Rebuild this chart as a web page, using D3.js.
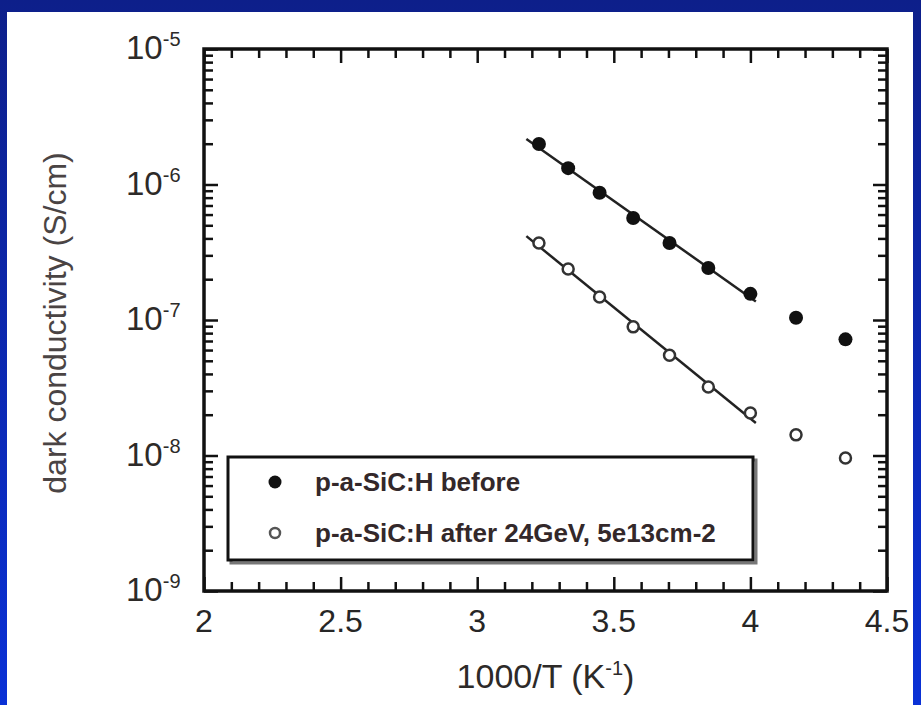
<!DOCTYPE html>
<html>
<head>
<meta charset="utf-8">
<script src="https://cdn.jsdelivr.net/npm/d3@7"></script>
<style>
  html, body { margin: 0; padding: 0; background: #0b2ab8; }
  svg { display: block; }
</style>
</head>
<body>
<div id="chart"></div>
<script>
// 1000/T values (K^-1)
const invT = [3.226, 3.333, 3.448, 3.571, 3.704, 3.846, 4.0, 4.167, 4.348];
// dark conductivity (S/cm)
const sigmaBefore = [1.99e-6, 1.32e-6, 8.7e-7, 5.66e-7, 3.7e-7, 2.42e-7, 1.56e-7, 1.04e-7, 7.2e-8];
const sigmaAfter = [3.7e-7, 2.38e-7, 1.48e-7, 8.9e-8, 5.5e-8, 3.2e-8, 2.06e-8, 1.42e-8, 9.6e-9];
const fitPoints = 7;          // first seven points used for the Arrhenius fit
const fitRange = [3.18, 4.02];
const xTicks = [2, 2.5, 3, 3.5, 4, 4.5];
const yTicks = [1e-9, 1e-8, 1e-7, 1e-6, 1e-5];
const yTickExp = ["-9", "-8", "-7", "-6", "-5"];
const legendLabels = ["p-a-SiC:H before", "p-a-SiC:H after 24GeV, 5e13cm-2"];

const W = 921, H = 705;
const margin = {top: 49, right: 34, bottom: 114, left: 204};
const width = W - margin.left - margin.right;
const height = H - margin.top - margin.bottom;
const font = "'Liberation Sans', Arial, sans-serif";

const root = d3.select("#chart").append("svg")
    .attr("width", W)
    .attr("height", H);

const grad = root.append("defs").append("linearGradient")
    .attr("id", "bg").attr("x1", 0).attr("y1", 0).attr("x2", 0).attr("y2", 1);
grad.append("stop").attr("offset", 0).attr("stop-color", "#0d1f8a");
grad.append("stop").attr("offset", 1).attr("stop-color", "#0a31d6");
root.append("rect").attr("width", W).attr("height", H).attr("fill", "url(#bg)");
root.append("rect").attr("x", 7).attr("y", 12).attr("width", 906).attr("height", H - 12).attr("fill", "#fff");

const svg = root.append("g")
    .attr("transform", "translate(" + margin.left + "," + margin.top + ")");

const x = d3.scaleLinear().domain([2, 4.5]).range([0, width]);
const y = d3.scaleLog().domain([1e-9, 1e-5]).range([height, 0]);

const xMinor = d3.range(21, 45).map(d => d / 10).filter(d => Math.round(d * 10) % 5 !== 0);
const yMinor = [];
[-9, -8, -7, -6].forEach(e => {
    for (let k = 2; k <= 9; k++) yMinor.push(k * Math.pow(10, e));
});

function styleAxis(g, w) {
    g.select(".domain").remove();
    g.selectAll(".tick line").attr("stroke", "#111").attr("stroke-width", w);
}

// ticks on all four sides, pointing inward
[[d3.axisBottom, "translate(0," + height + ")", x, xTicks, xMinor],
 [d3.axisTop, "translate(0,0)", x, xTicks, xMinor],
 [d3.axisLeft, "translate(0,0)", y, yTicks, yMinor],
 [d3.axisRight, "translate(" + width + ",0)", y, yTicks, yMinor]].forEach(([ax, tr, sc, major, minor]) => {
    svg.append("g").attr("transform", tr)
        .call(ax(sc).tickValues(minor).tickFormat("").tickSizeInner(-9).tickSizeOuter(0))
        .call(g => styleAxis(g, 2.5));
    svg.append("g").attr("transform", tr)
        .call(ax(sc).tickValues(major).tickFormat("").tickSizeInner(-14).tickSizeOuter(0))
        .call(g => styleAxis(g, 2.5));
});

svg.append("rect")
    .attr("width", width).attr("height", height)
    .attr("fill", "none").attr("stroke", "#111").attr("stroke-width", 3.5);

// tick labels
svg.append("g").selectAll("text").data(xTicks).enter().append("text")
    .attr("x", d => x(d)).attr("y", height + 41)
    .attr("text-anchor", "middle")
    .style("font", "32px " + font).style("fill", "#262626")
    .text(d => d);

const yl = svg.append("g").selectAll("text").data(yTicks).enter().append("text")
    .attr("x", -41).attr("y", d => y(d) + 10)
    .attr("text-anchor", "start")
    .style("font", "33px " + font).style("fill", "#2d2a28");
yl.append("tspan").attr("x", -78).text("10");
yl.append("tspan").attr("dy", -13).style("font-size", "20px").text((d, i) => yTickExp[i]);

// axis titles
const xt = svg.append("text")
    .attr("x", width / 2).attr("y", height + 97)
    .attr("text-anchor", "middle")
    .style("font", "34px " + font).style("fill", "#2d2a28");
xt.append("tspan").text("1000/T (K");
xt.append("tspan").attr("dy", -13).style("font-size", "20px").text("-1");
xt.append("tspan").attr("dy", 13).text(")");

svg.append("text")
    .attr("transform", "translate(" + (66 - margin.left) + "," + (height / 2 + 3) + ") rotate(-90)")
    .attr("text-anchor", "middle")
    .style("font", "32px " + font).style("fill", "#4a4444")
    .text("dark conductivity (S/cm)");

// Arrhenius fit lines (least squares on log10 sigma)
function fit(vals) {
    const xs = invT.slice(0, fitPoints);
    const ys = vals.slice(0, fitPoints).map(v => Math.log10(v));
    const mx = d3.mean(xs), my = d3.mean(ys);
    const b = d3.sum(xs, (v, i) => (v - mx) * (ys[i] - my)) / d3.sum(xs, v => (v - mx) * (v - mx));
    return fitRange.map(t => [t, Math.pow(10, my + b * (t - mx))]);
}
const line = d3.line().x(d => x(d[0])).y(d => y(d[1]));
[sigmaBefore, sigmaAfter].forEach(vals => {
    svg.append("path").datum(fit(vals))
        .attr("d", line)
        .attr("fill", "none").attr("stroke", "#222").attr("stroke-width", 2.5);
});

// data points
svg.selectAll(".before").data(invT).enter().append("circle")
    .attr("class", "before")
    .attr("cx", d => x(d)).attr("cy", (d, i) => y(sigmaBefore[i]))
    .attr("r", 7).attr("fill", "#111");
svg.selectAll(".after").data(invT).enter().append("circle")
    .attr("class", "after")
    .attr("cx", d => x(d)).attr("cy", (d, i) => y(sigmaAfter[i]))
    .attr("r", 5.5).attr("fill", "#fff").attr("stroke", "#333").attr("stroke-width", 2.5);

// legend
const lg = svg.append("g").attr("transform", "translate(" + (228 - margin.left) + "," + (457 - margin.top) + ")");
lg.append("rect").attr("x", 3).attr("y", 3).attr("width", 525).attr("height", 103)
    .attr("fill", "none").attr("stroke", "#777").attr("stroke-width", 3);
lg.append("rect").attr("width", 525).attr("height", 103)
    .attr("fill", "#fff").attr("stroke", "#111").attr("stroke-width", 3);
lg.append("circle").attr("cx", 47).attr("cy", 25).attr("r", 6.5).attr("fill", "#111");
lg.append("circle").attr("cx", 47).attr("cy", 76).attr("r", 5).attr("fill", "#fff")
    .attr("stroke", "#555").attr("stroke-width", 2.5);
lg.selectAll(".lt").data(legendLabels).enter().append("text")
    .attr("class", "lt")
    .attr("x", 87).attr("y", (d, i) => 34 + i * 51)
    .style("font", "bold 26px " + font).style("fill", "#33282a")
    .text(d => d);
</script>
</body>
</html>
